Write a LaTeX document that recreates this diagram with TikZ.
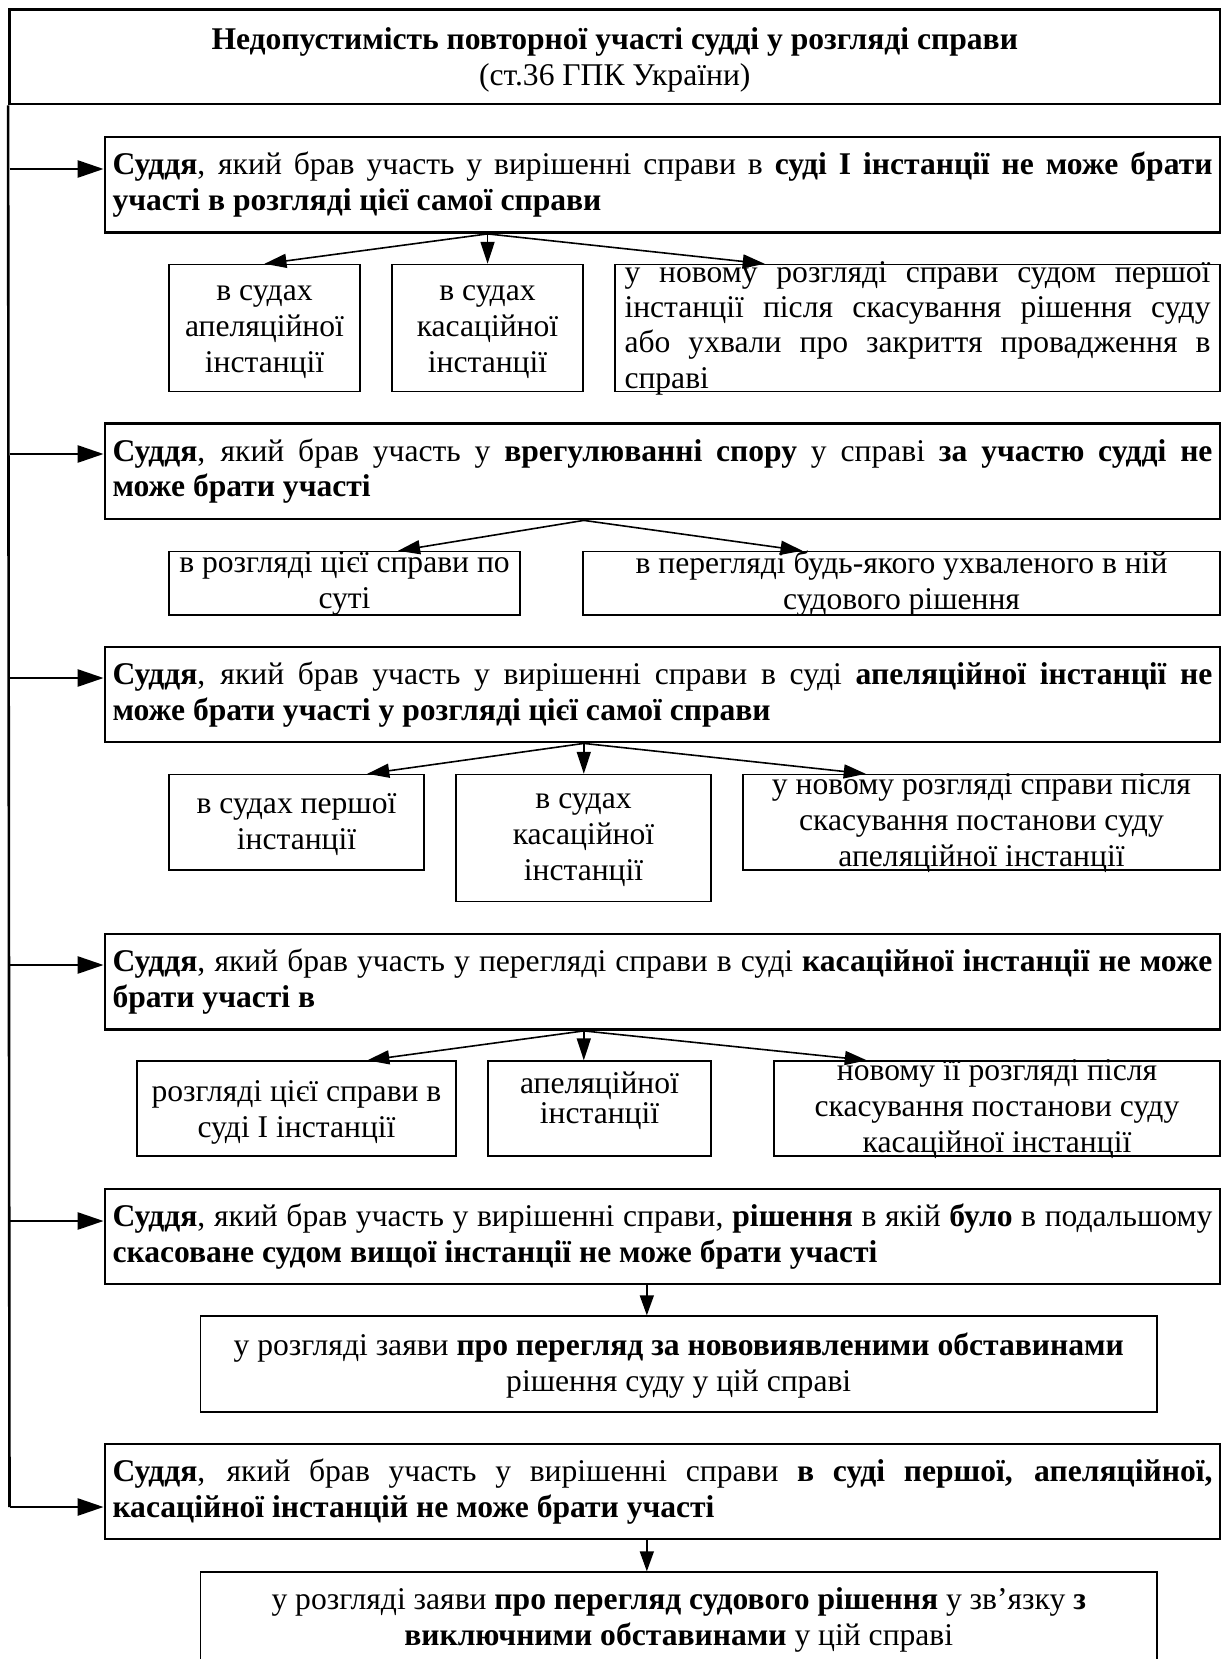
\documentclass[tikz,border=0pt]{standalone}
\usepackage{fontspec}
\setmainfont{Liberation Serif}
\usetikzlibrary{arrows.meta,fit,calc}
\tikzset{
  mainbox/.style={draw, line width=1.4pt, inner sep=0pt},
  subbox/.style={draw, line width=0.7pt, inner sep=0pt},
  maintxt/.style={text width=550pt, align=justify, inner sep=0pt, font=\fontsize{15.8}{17.75}\selectfont},
  subtxt/.style={align=center, inner sep=0pt, font=\fontsize{15.8}{18}\selectfont},
  justtxt/.style={text width=293pt, align=justify, inner sep=0pt, font=\fontsize{15.8}{17.7}\selectfont},
  trunk/.style={line width=1.3pt},
  bigarrow/.style={line width=1.3pt, -{Triangle[length=13pt,width=8.5pt]}},
  forkarrow/.style={line width=0.8pt, -{Triangle[length=11pt,width=7pt]}},
  downarrow/.style={line width=0.8pt, -{Triangle[length=10pt,width=7pt]}},
}
\begin{document}
\begin{tikzpicture}[x=0.5pt,y=-0.5pt]
\useasboundingbox (0,0) rectangle (1223,1659);
\clip (0,0) rectangle (1223,1659);

% title
\node[mainbox, fit={(9.5,9.5) (1220,104)}] (title) {};
\node[subtxt] (titletxt) at ([yshift=-1.5pt]title.center) {\textbf{Недопустимість повторної участі судді у розгляді справи}\\(ст.36 ГПК України)};

% main boxes
\node[mainbox, fit={(105,137) (1220,232.5)}] (b1) {};
\node[mainbox, fit={(105,423.5) (1220,519)}] (b2) {};
\node[mainbox, fit={(105,647) (1220,742)}] (b3) {};
\node[mainbox, fit={(105,934) (1220,1029.5)}] (b4) {};
\node[mainbox, fit={(105,1189) (1220,1284)}] (b5) {};
\node[mainbox, fit={(105,1444) (1220,1539)}] (b6) {};

\node[maintxt] (t1) at (b1.center) {\textbf{Суддя}, який брав участь у вирішенні справи в \textbf{суді І інстанції не може брати}\linebreak \textbf{участі в розгляді цієї самої справи}};
\node[maintxt] (t2) at (b2.center) {\textbf{Суддя}, який брав участь у \textbf{врегулюванні спору} у справі \textbf{за участю судді не}\linebreak \textbf{може брати участі}};
\node[maintxt] (t3) at (b3.center) {\textbf{Суддя}, який брав участь у вирішенні справи в суді \textbf{апеляційної інстанції не}\linebreak \textbf{може брати участі у розгляді цієї самої справи}};
\node[maintxt] (t4) at (b4.center) {\textbf{Суддя}, який брав участь у перегляді справи в суді \textbf{касаційної інстанції не може}\linebreak \textbf{брати участі в}};
\node[maintxt] (t5) at (b5.center) {\textbf{Суддя}, який брав участь у вирішенні справи, \textbf{рішення} в якій \textbf{було} в подальшому\linebreak \textbf{скасоване судом вищої інстанції не може брати участі}};
\node[maintxt] (t6) at (b6.center) {\textbf{Суддя}, який брав участь у вирішенні справи \textbf{в суді першої, апеляційної,}\linebreak \textbf{касаційної інстанцій не може брати участі}};

% row 1
\node[subbox, fit={(169,264.5) (360,391.7)}] (r1a) {};
\node[subbox, fit={(392,264.5) (583,391.7)}] (r1b) {};
\node[subbox, fit={(615,264.5) (1220,391.7)}] (r1c) {};
\node[subtxt] (r1at) at ([yshift=-2pt]r1a.center) {в судах\\апеляційної\\інстанції};
\node[subtxt] (r1bt) at ([yshift=-2pt]r1b.center) {в судах\\касаційної\\інстанції};
\node[justtxt] (r1ct) at (r1c.center) {у новому розгляді справи судом першої\linebreak інстанції після скасування рішення суду\linebreak або ухвали про закриття провадження в\linebreak справі};

% row 2
\node[subbox, fit={(169,551.5) (520,615)}] (r2a) {};
\node[subbox, fit={(583,551.5) (1220,615)}] (r2b) {};
\node[subtxt] (r2at) at (r2a.center) {в розгляді цієї справи по\\суті};
\node[subtxt] (r2bt) at (r2b.center) {в перегляді будь-якого ухваленого в ній\\судового рішення};

% row 3
\node[subbox, fit={(169,774.5) (424,870)}] (r3a) {};
\node[subbox, fit={(456,774.5) (711,901.5)}] (r3b) {};
\node[subbox, fit={(743,774.5) (1220,870)}] (r3c) {};
\node[subtxt] (r3at) at ([yshift=-1pt]r3a.center) {в судах першої\\інстанції};
\node[subtxt] (r3bt) at ([yshift=-1pt]r3b.center) {в судах\\касаційної\\інстанції};
\node[subtxt] (r3ct) at ([yshift=-0.5pt]r3c.center) {у новому розгляді справи після\\скасування постанови суду\\апеляційної інстанції};

% row 4
\node[subbox, fit={(137,1061) (456,1156)}] (r4a) {};
\node[subbox, fit={(488,1061) (711,1156)}] (r4b) {};
\node[subbox, fit={(774,1061) (1220,1156)}] (r4c) {};
\node[subtxt] (r4at) at ([yshift=-2pt]r4a.center) {розгляді цієї справи в\\суді І інстанції};
\node[subtxt, font=\fontsize{15.8}{15}\selectfont] (r4bt) at ([yshift=4pt]r4b.center) {апеляційної\\інстанції};
\node[subtxt] (r4ct) at ([yshift=-0.5pt]r4c.center) {новому її розгляді після\\скасування постанови суду\\касаційної інстанції};

% sub boxes 5 and 6
\node[subbox, fit={(200.5,1316) (1157,1412)}] (s5) {};
\node[subtxt] (s5t) at ([yshift=-1pt]s5.center) {у розгляді заяви \textbf{про перегляд за нововиявленими обставинами}\\рішення суду у цій справі};
\node[subbox, fit={(200.5,1572) (1157,1664)}] (s6) {};
\node[subtxt] (s6t) at ([yshift=-1pt]s6.center) {у розгляді заяви \textbf{про перегляд судового рішення} у зв’язку \textbf{з}\\\textbf{виключними обставинами} у цій справі};

% trunk and left arrows
\coordinate (L1) at (9.5,169);
\coordinate (L2) at (9.5,454);
\coordinate (L3) at (9.5,678);
\coordinate (L4) at (9.5,965);
\coordinate (L5) at (9.5,1221);
\coordinate (L6) at (9.5,1507);
\draw[trunk] (title.south west) -- (L6);
\draw[bigarrow] (L1) -- (L1 -| b1.west);
\draw[bigarrow] (L2) -- (L2 -| b2.west);
\draw[bigarrow] (L3) -- (L3 -| b3.west);
\draw[bigarrow] (L4) -- (L4 -| b4.west);
\draw[bigarrow] (L5) -- (L5 -| b5.west);
\draw[bigarrow] (L6) -- (L6 -| b6.west);

% forks
\coordinate (f1) at ($(b1.south west)!0.3435!(b1.south east)$);
\draw[forkarrow] (f1) -- (r1a.north);
\draw[forkarrow] (f1) -- (f1 |- r1b.north);
\draw[forkarrow] (f1) -- ($(r1c.north west)!0.248!(r1c.north east)$);

\coordinate (f2) at ($(b2.south west)!0.4296!(b2.south east)$);
\draw[forkarrow] (f2) -- ($(r2a.north west)!0.652!(r2a.north east)$);
\draw[forkarrow] (f2) -- ($(r2b.north west)!0.345!(r2b.north east)$);

\coordinate (f3) at ($(b3.south west)!0.4296!(b3.south east)$);
\draw[forkarrow] (f3) -- ($(r3a.north west)!0.776!(r3a.north east)$);
\draw[forkarrow] (f3) -- (f3 |- r3b.north);
\draw[forkarrow] (f3) -- ($(r3c.north west)!0.258!(r3c.north east)$);

\coordinate (f4) at ($(b4.south west)!0.4296!(b4.south east)$);
\draw[forkarrow] (f4) -- ($(r4a.north west)!0.721!(r4a.north east)$);
\draw[forkarrow] (f4) -- (f4 |- r4b.north);
\draw[forkarrow] (f4) -- ($(r4c.north west)!0.209!(r4c.north east)$);

% down arrows
\coordinate (d5) at ($(b5.south west)!0.486!(b5.south east)$);
\draw[downarrow] (d5) -- (d5 |- s5.north);
\coordinate (d6) at ($(b6.south west)!0.486!(b6.south east)$);
\draw[downarrow] (d6) -- (d6 |- s6.north);
\end{tikzpicture}
\end{document}
